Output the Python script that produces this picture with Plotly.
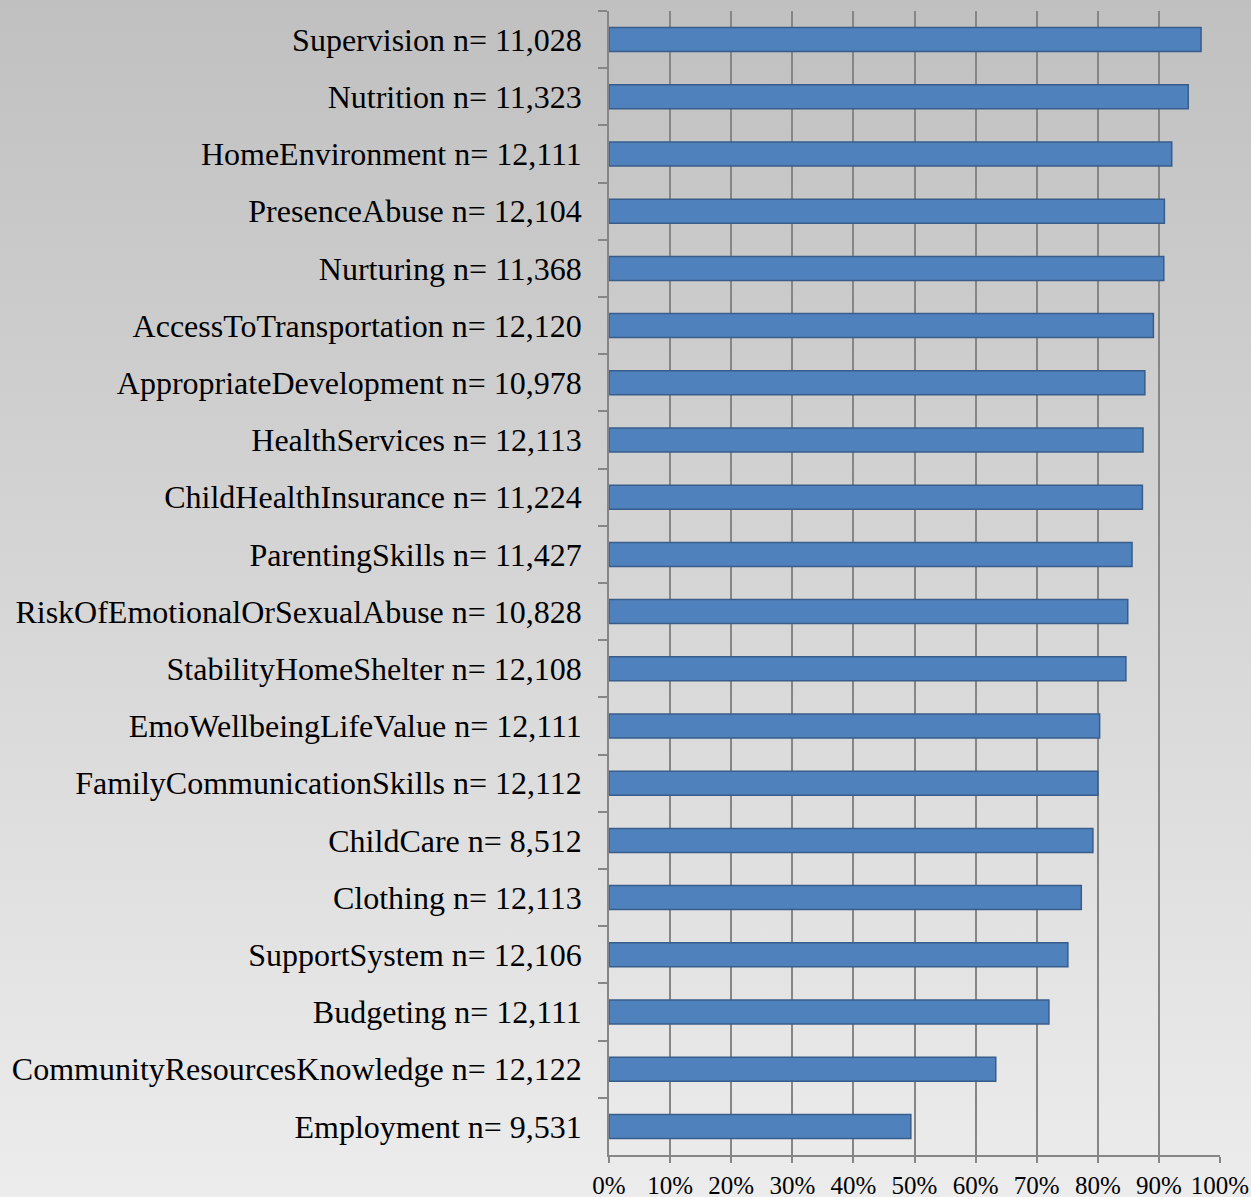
import base64
import plotly.graph_objects as go

# Domains, top to bottom
domains = [
    "Supervision", "Nutrition", "HomeEnvironment", "PresenceAbuse", "Nurturing",
    "AccessToTransportation", "AppropriateDevelopment", "HealthServices",
    "ChildHealthInsurance", "ParentingSkills", "RiskOfEmotionalOrSexualAbuse",
    "StabilityHomeShelter", "EmoWellbeingLifeValue", "FamilyCommunicationSkills",
    "ChildCare", "Clothing", "SupportSystem", "Budgeting",
    "CommunityResourcesKnowledge", "Employment",
]
sample_sizes = [
    "11,028", "11,323", "12,111", "12,104", "11,368",
    "12,120", "10,978", "12,113", "11,224", "11,427",
    "10,828", "12,108", "12,111", "12,112", "8,512",
    "12,113", "12,106", "12,111", "12,122", "9,531",
]
shares = [
    0.969, 0.948, 0.921, 0.909, 0.908,
    0.891, 0.877, 0.874, 0.873, 0.856,
    0.849, 0.846, 0.803, 0.800, 0.792,
    0.773, 0.751, 0.720, 0.633, 0.494,
]
x_ticks = [i / 10 for i in range(11)]

labels = [f"{d} n= {n}" for d, n in zip(domains, sample_sizes)]

W, H = 1251, 1197
L, R, T, B = 609, 31, 11, 42
pw, ph = W - L - R, H - T - B

# Vertical grey gradient behind the whole chart
svg = (
    f'<svg xmlns="http://www.w3.org/2000/svg" width="{W}" height="{H}" preserveAspectRatio="none">'
    '<defs><linearGradient id="g" x1="0" y1="0" x2="0" y2="1">'
    '<stop offset="0" stop-color="#c0c0c0"/><stop offset="1" stop-color="#ececec"/>'
    '</linearGradient></defs>'
    f'<rect width="{W}" height="{H}" fill="url(#g)"/></svg>'
)
bg_src = "data:image/svg+xml;base64," + base64.b64encode(svg.encode()).decode()

fig = go.Figure(
    go.Bar(
        x=shares,
        y=labels,
        orientation="h",
        width=0.42,
        marker=dict(color="#4f81bd", line=dict(color="#385d8a", width=1.5)),
        hoverinfo="x+y",
    )
)

fig.update_layout(
    width=W,
    height=H,
    margin=dict(l=L, r=R, t=T, b=B, autoexpand=False),
    paper_bgcolor="#ececec",
    plot_bgcolor="rgba(0,0,0,0)",
    showlegend=False,
    images=[
        dict(
            source=bg_src,
            xref="paper", yref="paper",
            x=-L / pw, y=1 + T / ph,
            sizex=W / pw, sizey=H / ph,
            xanchor="left", yanchor="top",
            sizing="stretch", layer="below",
        )
    ],
    xaxis=dict(
        range=[0, 1],
        tickvals=x_ticks,
        tickformat=".0%",
        automargin=False,
        showgrid=True,
        gridcolor="#868686",
        gridwidth=1.5,
        zeroline=False,
        showline=True,
        linecolor="#868686",
        linewidth=1.5,
        ticks="outside",
        ticklen=6,
        tickcolor="#868686",
        tickwidth=1.5,
        ticklabelstandoff=1,
        tickfont=dict(family="Liberation Serif", size=25, color="#000000"),
        fixedrange=True,
    ),
    yaxis=dict(
        autorange="reversed",
        automargin=False,
        showgrid=False,
        showline=True,
        linecolor="#868686",
        linewidth=1.5,
        ticks="outside",
        tickson="boundaries",
        ticklen=9,
        tickcolor="#868686",
        tickwidth=1.5,
        ticklabelstandoff=19,
        tickfont=dict(family="Liberation Serif", size=32, color="#000000"),
        fixedrange=True,
    ),
)

fig.write_html("out.html")
